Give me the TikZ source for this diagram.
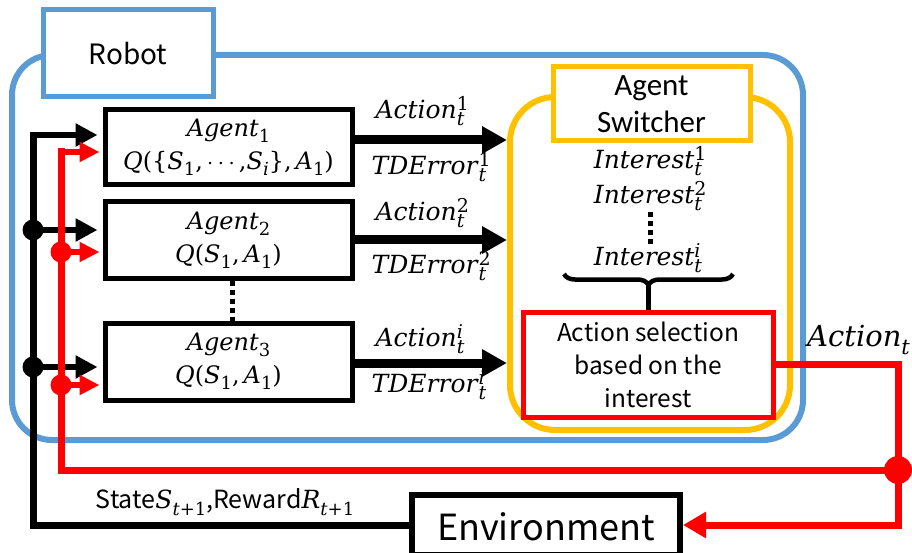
\RequirePackage{fix-cm}
\documentclass[tikz,border=0pt]{standalone}
\usepackage[no-math]{fontspec}
\setmainfont{Noto Sans CJK JP}
\newfontfamily\calfont{Carlito}
\newfontfamily\mifont{DejaVu Serif}
\newcommand{\mv}[1]{\textit{#1}}
\newcommand{\ssb}[2]{\rlap{\raisebox{0.32em}{\mifont\fontsize{19}{19}\selectfont #1}}\raisebox{-0.26em}{\mifont\fontsize{19}{19}\selectfont\itshape #2}}
\newcommand{\sbs}[1]{\raisebox{-0.26em}{\mifont\fontsize{18}{18}\selectfont #1}}
\newcommand{\sbsb}[1]{\raisebox{-0.26em}{\mifont\fontsize{21}{21}\selectfont #1}}
\usetikzlibrary{arrows.meta,decorations.pathreplacing}
\definecolor{rblue}{HTML}{5B9BD5}
\definecolor{rorange}{HTML}{FFC000}
\definecolor{rred}{HTML}{FF0000}
\begin{document}
\begin{tikzpicture}[x=1pt,y=-1pt,
  frame/.style={draw, rounded corners=#1, inner sep=0pt},
  labbox/.style={draw, fill=white, inner sep=0pt, line width=5pt},
  agentbox/.style={draw=black, fill=white, line width=5pt, inner sep=0pt,
     minimum width=247pt, align=center, font=\mifont\fontsize{24}{33}\selectfont},
  mlab/.style={inner sep=0pt, font=\mifont\fontsize{25}{30}\selectfont},
  bigarrow/.style={line width=9pt, -{Triangle[length=25pt,width=26pt]}},
  blkline/.style={line width=7pt, black},
  redline/.style={line width=7pt, rred},
  blkarrow/.style={line width=6pt, black, -{Triangle[length=22pt,width=22pt]}, shorten >=5pt},
  redarrow/.style={line width=6pt, rred, -{Triangle[length=20pt,width=19pt]}, shorten >=3pt},
  dotline/.style={line width=5pt, dash pattern=on 5pt off 4pt}
]
\useasboundingbox (0,0) rectangle (912,553);
\clip (0,0) rectangle (912,553);

% Robot frame
\node[frame=40pt, draw=rblue, line width=6pt, minimum width=791pt, minimum height=385pt] (robotframe) at (407.5,247.5) {};
\node[labbox, draw=rblue, minimum width=170pt, minimum height=87pt, font=\fontsize{28}{32}\selectfont] (robot) at (128,53.5) {Robot};

% Agent switcher frame
\node[frame=45pt, draw=rorange, line width=6pt, minimum width=280pt, minimum height=333pt] (sw) at (650,263.5) {};
\node[labbox, draw=rorange, minimum width=197pt, minimum height=74pt, align=center, font=\calfont\fontsize{31}{37}\selectfont] (swlab) at (651.5,104) {Agent\\Switcher};

% Agents
\node[agentbox, minimum height=75pt] (a1) at (228.5,147.5) {\mv{Agent}\sbs{1}\\\mv{Q}(\{\mv{S}\sbs{1},\,$\cdots$\,,\mv{S}\sbs{\itshape i}\},\,\mv{A}\sbs{1})};
\node[agentbox, minimum height=76pt] (a2) at (228.5,240) {\mv{Agent}\sbs{2}\\\mv{Q}(\mv{S}\sbs{1},\,\mv{A}\sbs{1})};
\node[agentbox, minimum height=77pt] (a3) at (228.5,361.5) {\mv{Agent}\sbs{3}\\\mv{Q}(\mv{S}\sbs{1},\,\mv{A}\sbs{1})};
\draw[dotline] ([xshift=3.5pt]a2.south) -- ([xshift=3.5pt]a3.north);

% Arrows agent -> switcher
\draw[bigarrow] ([yshift=7.5pt]a1.east) -- ([yshift=7.5pt]a1.east -| sw.west);
\draw[bigarrow] (a2.east) -- (a2.east -| sw.west);
\draw[bigarrow] ([yshift=-1.5pt]a3.east) -- ([yshift=-1.5pt]a3.east -| sw.west);

\node[mlab] (act1) at (420,111) {\mv{Action}\ssb{1}{t}};
\node[mlab] (td1) at (429,167) {\mv{TDError}\ssb{1}{t}};
\node[mlab] (act2) at (420,213) {\mv{Action}\ssb{2}{t}};
\node[mlab] (td2) at (429,266) {\mv{TDError}\ssb{2}{t}};
\node[mlab] (act3) at (420,339) {\mv{Action}\ssb{\itshape i}{t}};
\node[mlab] (td3) at (429,385) {\mv{TDError}\ssb{\itshape i}{t}};

% Interests
\node[mlab] (int1) at (648,161) {\mv{Interest}\ssb{1}{t}};
\node[mlab] (int2) at (648,196) {\mv{Interest}\ssb{2}{t}};
\node[mlab] (int3) at (648,258) {\mv{Interest}\ssb{\itshape i}{t}};
\coordinate (dtop) at (650,212);
\coordinate (dbot) at (650,244);
\draw[dotline] (dtop) -- (dbot);
\coordinate (brL) at (564,274);
\coordinate (brR) at (733,274);
\draw[line width=4.5pt, decorate, decoration={brace, amplitude=11pt}] (brR) -- (brL);

% Action selection
\node[draw=rred, line width=5pt, fill=white, inner sep=0pt, minimum width=250pt, minimum height=105pt,
      align=center, font=\fontsize{24.5}{33}\selectfont] (act) at (648,364.5) {Action selection\\based on the\\interest};
\coordinate (brtip) at (648,284);
\draw[line width=5pt] (brtip) -- (act.north);

% Environment
\node[draw=black, line width=6pt, fill=white, inner sep=0pt, minimum width=268pt, minimum height=60pt] (env) at (546,525) {};
\node[inner sep=0pt, font=\fontsize{36}{40}\selectfont] (envtxt) at (546,527) {Environment};

% Black feedback
\coordinate (bcorner) at (33,135);
\coordinate (bd2) at (33,230);
\coordinate (bd3) at (33,367);
\draw[blkline] (env.west) -| (bcorner);
\draw[blkarrow] ([xshift=-3.5pt]bcorner) -- (a1.west |- bcorner);
\fill (bd2) circle (10.5pt);
\fill (bd3) circle (10.5pt);
\draw[blkarrow] (bd2) -- (a2.west |- bd2);
\draw[blkarrow] (bd3) -- (a3.west |- bd3);

% Red action loop
\coordinate (rcorner) at (898,525);
\coordinate (rdot) at (898,470);
\coordinate (rleft) at (61,470);
\coordinate (rtop) at (61,152);
\coordinate (rd2) at (61,252);
\coordinate (rd3) at (61,385);
\draw[redline] (act.east) -| (rcorner);
\draw[redline, -{Triangle[length=23pt,width=25pt]}] ([xshift=3.5pt]rcorner) -- (env.east |- rcorner);
\draw[redline] (rdot) -- (rleft) -- ([yshift=3.5pt]rtop);
\draw[redarrow] ([xshift=-3.5pt]rtop) -- (a1.west |- rtop);
\fill[rred] (rdot) circle (14pt);
\fill[rred] (rd2) circle (10.5pt);
\fill[rred] (rd3) circle (10.5pt);
\draw[redarrow] (rd2) -- (a2.west |- rd2);
\draw[redarrow] (rd3) -- (a3.west |- rd3);

% Labels
\node[inner sep=0pt, font=\fontsize{25}{28}\selectfont] (statelab) at (225,502) {State{\mifont\mv{S}\sbs{\itshape t\upshape +1}},Reward{\mifont\mv{R}\sbs{\itshape t\upshape +1}}};
\node[inner sep=0pt, anchor=west, font=\mifont\fontsize{29}{32}\selectfont] (actt) at (807,340) {\mv{Action}\sbsb{\itshape t}};
\end{tikzpicture}
\end{document}
